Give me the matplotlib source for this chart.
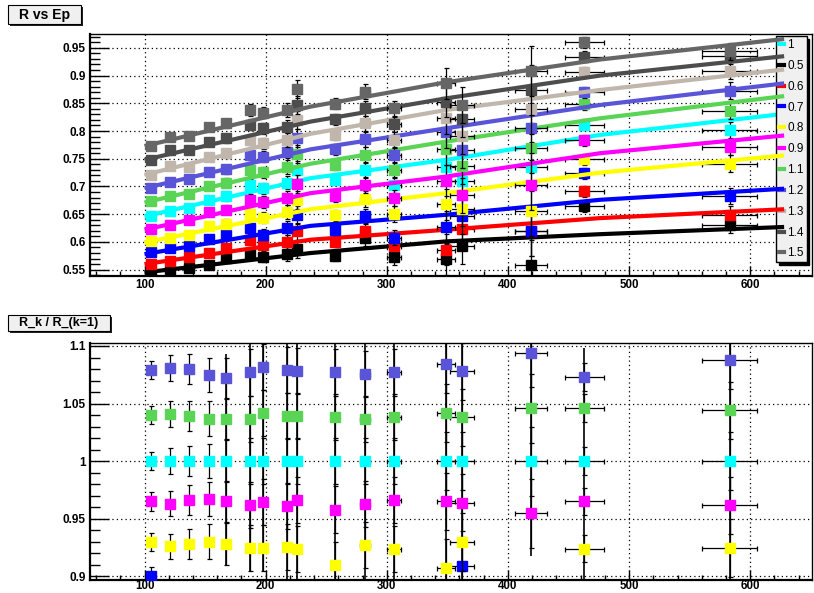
import numpy as np
import matplotlib
matplotlib.use("Agg")
import matplotlib.pyplot as plt
from matplotlib.lines import Line2D
from matplotlib.patches import Rectangle
from matplotlib.ticker import MultipleLocator, FuncFormatter

plt.rcParams['font.family'] = ['Liberation Sans', 'DejaVu Sans']
plt.rcParams['font.weight'] = 'bold'

nan = np.nan

# beam energy points (Ep) and their horizontal errors
ep = [105, 121, 137, 153, 167, 187, 198, 218, 226, 257, 282, 306, 349, 362, 419, 463, 583]
ep_err = [1, 1, 1, 1, 1, 2, 2, 2, 2, 3, 4, 5.5, 7.3, 10, 13.3, 16, 22.7]

# R vs Ep, one list per k
labels = ['1', '0.5', '0.6', '0.7', '0.8', '0.9', '1.1', '1.2', '1.3', '1.4', '1.5']
colors = ['#00ffff', '#000000', '#ff0000', '#0000ff', '#ffff00', '#ff00ff',
          '#59d454', '#5954d8', '#c0b6ac', '#4d4d4d', '#666666']

r_10 = [0.647, 0.655, 0.661, 0.676, 0.682, 0.703, 0.697, 0.707, 0.730, 0.712, 0.730, 0.703, 0.736, 0.710, 0.736, 0.811, 0.802]
r_05 = [0.543, 0.548, 0.553, 0.558, 0.571, 0.578, 0.573, 0.578, 0.587, 0.575, 0.607, 0.573, 0.569, 0.593, 0.558, 0.664, 0.631]
r_06 = [0.560, 0.566, 0.573, 0.580, 0.589, 0.604, 0.595, 0.600, 0.619, 0.600, 0.620, 0.592, 0.586, 0.623, 0.620, 0.691, 0.649]
r_07 = [0.582, 0.589, 0.592, 0.605, 0.613, 0.625, 0.613, 0.625, 0.649, 0.622, 0.646, 0.608, 0.627, 0.646, 0.619, 0.724, 0.683]
r_08 = [0.602, 0.607, 0.613, 0.629, 0.633, 0.650, 0.644, 0.654, 0.675, 0.648, 0.677, 0.650, 0.668, 0.660, 0.656, 0.749, 0.741]
r_09 = [0.624, 0.631, 0.639, 0.654, 0.658, 0.676, 0.672, 0.679, 0.705, 0.682, 0.703, 0.679, 0.710, 0.684, 0.703, 0.783, 0.771]
r_11 = [0.673, 0.682, 0.687, 0.701, 0.707, 0.729, 0.726, 0.735, 0.758, 0.739, 0.757, 0.730, 0.767, 0.737, 0.770, 0.848, 0.837]
r_12 = [0.698, 0.708, 0.714, 0.727, 0.731, 0.757, 0.754, 0.763, 0.787, 0.767, 0.785, 0.757, 0.798, 0.765, 0.805, 0.870, 0.873]
r_13 = [0.721, 0.737, 0.736, 0.754, 0.760, 0.784, 0.778, 0.784, 0.820, 0.793, 0.814, 0.784, 0.823, 0.791, 0.840, 0.906, 0.909]
r_14 = [0.748, 0.765, 0.766, 0.781, 0.787, 0.811, 0.805, 0.808, 0.847, 0.821, 0.841, 0.812, 0.853, 0.821, 0.874, 0.934, 0.935]
r_15 = [0.773, 0.790, 0.791, 0.808, 0.814, 0.838, 0.833, 0.838, 0.876, 0.849, 0.871, 0.841, 0.886, 0.847, 0.909, 0.960, 0.944]
r_err = [0.004, 0.005, 0.006, 0.007, 0.008, 0.010, 0.010, 0.012, 0.016, 0.010, 0.014, 0.014, 0.028, 0.032, 0.045, 0.010, 0.015]

# fit curves at a few Ep values
fit_ep = [100, 237, 349, 476, 628]
fit_10 = [0.646, 0.715, 0.748, 0.793, 0.831]
fit_05 = [0.545, 0.580, 0.601, 0.614, 0.627]
fit_06 = [0.560, 0.604, 0.622, 0.643, 0.659]
fit_07 = [0.578, 0.629, 0.649, 0.676, 0.696]
fit_08 = [0.599, 0.659, 0.688, 0.725, 0.756]
fit_09 = [0.622, 0.688, 0.718, 0.760, 0.792]
fit_11 = [0.671, 0.741, 0.781, 0.823, 0.863]
fit_12 = [0.697, 0.767, 0.805, 0.847, 0.886]
fit_13 = [0.721, 0.795, 0.838, 0.874, 0.911]
fit_14 = [0.748, 0.817, 0.859, 0.900, 0.935]
fit_15 = [0.773, 0.844, 0.888, 0.929, 0.966]

r_all = [r_10, r_05, r_06, r_07, r_08, r_09, r_11, r_12, r_13, r_14, r_15]
fit_all = [fit_10, fit_05, fit_06, fit_07, fit_08, fit_09, fit_11, fit_12, fit_13, fit_14, fit_15]

# ratio R_k / R_(k=1), only the ones inside the lower frame
q_10 = [1.0, 1.0, 1.0, 1.0, 1.0, 1.0, 1.0, 1.0, 1.0, 1.0, 1.0, 1.0, 1.0, 1.0, 1.0, 1.0, 1.0]
q_07 = [0.900, nan, nan, nan, nan, nan, nan, nan, nan, nan, nan, nan, nan, 0.909, nan, nan, nan]
q_08 = [0.930, 0.926, 0.928, 0.930, 0.928, 0.9245, 0.9245, 0.9255, 0.924, 0.9097, 0.927, 0.924, 0.907, 0.930, nan, 0.924, 0.9245]
q_09 = [0.965, 0.963, 0.966, 0.967, 0.965, 0.962, 0.9645, 0.961, 0.966, 0.958, 0.963, 0.966, 0.965, 0.964, 0.9546, 0.965, 0.9615]
q_11 = [1.040, 1.041, 1.039, 1.037, 1.037, 1.037, 1.042, 1.039, 1.039, 1.038, 1.037, 1.0385, 1.042, 1.038, 1.046, 1.046, 1.044]
q_12 = [1.079, 1.081, 1.080, 1.075, 1.072, 1.077, 1.082, 1.079, 1.078, 1.077, 1.076, 1.077, 1.084, 1.078, 1.094, 1.073, 1.088]
q_err = [0.008, 0.011, 0.013, 0.015, 0.018, 0.020, 0.020, 0.020, 0.020, 0.020, 0.020, 0.020, 0.025, 0.025, 0.030, 0.012, 0.025]
q_all = [(q_10, '#00ffff'), (q_07, '#0000ff'), (q_08, '#ffff00'), (q_09, '#ff00ff'),
         (q_11, '#59d454'), (q_12, '#5954d8')]

# error bars of the off-scale ratios (k=0.5, 0.6, 1.3 ...) that cross the frame
span_lo = [nan, nan, nan, nan, 0.909, 0.904, 0.905, 0.85, 0.85, 0.85, 0.85, 0.85, 0.85, 0.85, 0.9175, 0.85, 0.85]
span_hi = [nan, nan, nan, nan, 1.093, 1.2, 1.2, 1.2, 1.2, 1.2, 1.2, 1.2, 1.2, 1.2, 1.2, 1.098, 1.2]

W, H = 814, 593
fig = plt.figure(figsize=(W / 100, H / 100), dpi=100)


def px_box(x0, y0, x1, y1):
    return [x0 / W, 1 - y1 / H, (x1 - x0) / W, (y1 - y0) / H]


def title_box(x0, y0, x1, y1, text, size):
    sx, sy, sw, sh = px_box(x0 + 2, y0 + 2, x1 + 2, y1 + 2)
    fig.add_artist(Rectangle((sx, sy), sw, sh, transform=fig.transFigure,
                             fc='#222222', ec='none'))
    bx, by, bw, bh = px_box(x0, y0, x1, y1)
    fig.add_artist(Rectangle((bx, by), bw, bh, transform=fig.transFigure,
                             fc='#f0f0f0', ec='black', lw=0.8))
    fig.text(bx + bw / 2, by + bh / 2, text, ha='center', va='center',
             fontsize=size, fontweight='bold')


def style_axis(ax, ystep, xpad):
    ax.set_xlim(55, 651)
    ax.xaxis.set_major_locator(MultipleLocator(100))
    ax.xaxis.set_minor_locator(MultipleLocator(20))
    ax.yaxis.set_major_locator(MultipleLocator(ystep))
    ax.yaxis.set_minor_locator(MultipleLocator(0.01))
    fmt = FuncFormatter(lambda v, p: '%g' % round(v, 3))
    ax.xaxis.set_major_formatter(fmt)
    ax.yaxis.set_major_formatter(fmt)
    ax.tick_params(axis='y', which='major', direction='in', length=14, width=1,
                   labelsize=8.5, pad=3)
    ax.tick_params(axis='y', which='minor', direction='in', length=7, width=1)
    ax.tick_params(axis='x', which='major', direction='in', length=7, width=1,
                   labelsize=8.3, pad=xpad)
    ax.tick_params(axis='x', which='minor', direction='in', length=3.5, width=1)
    ax.grid(True, which='major', color='black', ls=(0, (1, 2.5)), lw=0.9)
    for s in ['left', 'bottom']:
        ax.spines[s].set_linewidth(1.6)
    for s in ['top', 'right']:
        ax.spines[s].set_linewidth(1.0)


# ---- top pad: R vs Ep ----
ax1 = fig.add_axes(px_box(90, 34, 812, 276))
for i in range(len(labels)):
    col = colors[i]
    ax1.errorbar(ep, r_all[i], xerr=ep_err, yerr=r_err, fmt='s', ms=7.5,
                 mfc=col, mec=col, ecolor='black', elinewidth=0.9, capsize=1.8,
                 capthick=0.9, zorder=3 + 2 * i)
    ax1.plot(fit_ep, fit_all[i], color=col, lw=3, zorder=4 + 2 * i,
             solid_capstyle='butt')
ax1.set_ylim(0.5386, 0.975)
style_axis(ax1, 0.05, 2)

handles = [Line2D([], [], color=c, lw=3) for c in colors]
ax1.legend(handles, labels, loc='upper left', bbox_to_anchor=(776 / W, 1 - 36 / H),
           bbox_transform=fig.transFigure, prop={'size': 8.5, 'weight': 'normal'},
           handlelength=0.45, handletextpad=0.25, borderpad=0.25, labelspacing=0.75,
           borderaxespad=0, fancybox=False, framealpha=1, edgecolor='black',
           facecolor='#f0f0f0', shadow={'color': 'black', 'alpha': 1})
title_box(8, 5, 81, 24, 'R vs Ep', 10)

# ---- bottom pad: ratio ----
ax2 = fig.add_axes(px_box(90, 343, 812, 580))
ax2.vlines(ep, span_lo, span_hi, color='black', lw=1.2, zorder=2)
for j, (q, col) in enumerate(q_all):
    ax2.errorbar(ep, q, xerr=ep_err, yerr=q_err, fmt='s', ms=7.5,
                 mfc=col, mec=col, ecolor='black', elinewidth=0.9, capsize=1.8,
                 capthick=0.9, zorder=3 + j)
ax2.set_ylim(0.8968, 1.1026)
style_axis(ax2, 0.05, 0.3)
title_box(8, 315, 110, 331, 'R_k / R_(k=1)', 9)

fig.savefig('out.png', dpi=100)
